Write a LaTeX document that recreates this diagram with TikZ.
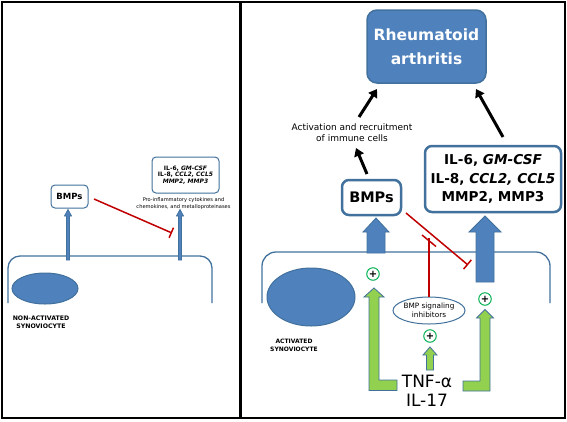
\documentclass[tikz,border=0pt]{standalone}
\usepackage{fontspec}
\setmainfont{DejaVu Sans}
\usetikzlibrary{arrows.meta,shapes.geometric}
\definecolor{bbord}{HTML}{41719C}
\definecolor{bfill}{HTML}{4F81BD}
\definecolor{rline}{HTML}{C00000}
\definecolor{gcirc}{HTML}{00B050}
\definecolor{gfill}{HTML}{92D050}
\begin{document}
\begin{tikzpicture}[x=1pt,y=-1pt,
  smallbox/.style={draw=bbord, fill=white, rounded corners=4pt, line width=1pt, inner sep=0pt, align=center},
  bigbox/.style={draw=bbord, fill=white, rounded corners=7pt, line width=2.5pt, inner sep=0pt, align=center},
  rabox/.style={draw=bbord, fill=bfill, rounded corners=10pt, line width=1.5pt, inner sep=0pt, align=center, text=white},
  membrane/.style={draw=bbord, line width=1.3pt, rounded corners=12pt},
  nucleus/.style={draw=bbord, fill=bfill, line width=1pt},
  barr/.style={fill=bfill, draw=bbord, line width=0.8pt},
  garr/.style={fill=gfill, draw=bbord, line width=0.8pt},
  inhib/.style={draw=rline, line width=1.5pt, -{Bar[width=11pt,line width=1.5pt]}},
  blk/.style={draw=black, line width=3pt, -{Triangle[length=8pt,width=10pt]}},
  plus/.style={circle, draw=gcirc, fill=white, line width=1pt, minimum size=12.5pt, inner sep=0pt, font=\bfseries\fontsize{10}{10}\selectfont},
  lbl/.style={align=center, inner sep=0pt}
]
\useasboundingbox (0,0) rectangle (567,421);
% frames
\draw[line width=2pt] (2,2) rectangle (565,418);
\draw[line width=3pt] (240,2) -- (240,418);

% ---------------- left panel ----------------
\draw[membrane] (8,303) -- (8,256) -- (212,256) -- (212,303);
\draw[nucleus] (45,288.5) ellipse [x radius=33, y radius=15.5];
\node[lbl, font=\bfseries\fontsize{6.2}{8.5}\selectfont] (nact) at (41,322) {NON-ACTIVATED\\SYNOVIOCYTE};
\node[smallbox, minimum width=37pt, minimum height=23pt, font=\bfseries\fontsize{8.5}{10}\selectfont] (bmpL) at (69.5,196.5) {BMPs};
\node[smallbox, minimum width=67pt, minimum height=36pt, font=\bfseries\fontsize{6}{6.7}\selectfont] (ilL) at (185.5,175) {IL-6, \textit{GM-CSF}\\IL-8, \textit{CCL2, CCL5}\\\textit{MMP2, MMP3}};
\node[lbl, font=\fontsize{5.1}{6.7}\selectfont] (capL) at (183.5,203.3) {Pro-inflammatory cytokines and\\chemokines, and metalloproteinases};
\draw[barr] (66.5,260) -- (66.5,216) -- (64.5,216) -- (68,209.5) -- (71.5,216) -- (69.5,216) -- (69.5,260) -- cycle;
\draw[barr] (178.5,260) -- (178.5,216) -- (176.5,216) -- (180,209.5) -- (183.5,216) -- (181.5,216) -- (181.5,260) -- cycle;
\coordinate (rl1) at (94,199);
\coordinate (rl2) at (172,233);
\draw[inhib] (rl1) -- (rl2);

% ---------------- right panel ----------------
\draw[membrane, rounded corners=14pt] (262,303) -- (262,252) -- (550,252) -- (550,303);
\draw[nucleus] (311,297) ellipse [x radius=44, y radius=29];
\node[lbl, font=\bfseries\fontsize{6}{7.8}\selectfont] (act2) at (294,345.5) {ACTIVATED\\SYNOVIOCYTE};

\node[rabox, minimum width=119pt, minimum height=73pt, font=\bfseries\fontsize{15.5}{24}\selectfont] (ra) at (426.5,46.5) {Rheumatoid\\arthritis};
\node[lbl, font=\fontsize{9}{11.5}\selectfont] (act) at (352,132.5) {Activation and recruitment\\of immune cells};
\node[bigbox, minimum width=59pt, minimum height=35pt, font=\bfseries\fontsize{14.5}{18}\selectfont] (bmpR) at (371.5,197.5) {BMPs};
\node[bigbox, minimum width=136pt, minimum height=66pt, font=\bfseries\fontsize{13.6}{18.5}\selectfont] (ilR) at (493,179) {IL-6, \textit{GM-CSF}\\IL-8, \textit{CCL2, CCL5}\\MMP2, MMP3};

\coordinate (k1a) at (367,174);
\coordinate (k1b) at (356,148);
\coordinate (k2a) at (359,117);
\coordinate (k2b) at (377,89);
\coordinate (k3a) at (503,137);
\coordinate (k3b) at (476,89);
\draw[blk] (k1a) -- (k1b);
\draw[blk] (k2a) -- (k2b);
\draw[blk] (k3a) -- (k3b);

% blue block arrows
\draw[barr] (367,253) -- (367,232) -- (363,232) -- (376,218) -- (389,232) -- (385,232) -- (385,253) -- cycle;
\draw[barr] (476,282) -- (476,232) -- (469,232) -- (485,216) -- (501,232) -- (494,232) -- (494,282) -- cycle;

% red inhibitions
\coordinate (r1) at (406,213);
\coordinate (r2) at (468,265);
\draw[inhib, -{Bar[width=12pt,line width=1.5pt]}] (r1) -- (r2);
\node[ellipse, draw=bbord, fill=white, line width=1pt, minimum width=69pt, minimum height=27pt, inner sep=0pt, align=center, font=\fontsize{7.3}{9}\selectfont] (inh) at (429,310.5) {BMP signaling\\inhibitors};
\coordinate (ib) at (429,238);
\draw[rline, line width=1.3pt] (inh.north) -- (ib);
\draw[rline, line width=1.5pt] (422,235) -- (436,246.5);

% green arrows
\draw[garr] (397,380) -- (379,380) -- (379,297) -- (384,297) -- (374,288) -- (364,297) -- (369,297) -- (369,390.5) -- (397,390.5) -- cycle;
\draw[garr] (463,381) -- (480,381) -- (480,318) -- (476.5,318) -- (485,309.5) -- (493.5,318) -- (490,318) -- (490,391) -- (463,391) -- cycle;
\draw[garr] (426.5,370) -- (426.5,355) -- (423,355) -- (430,347) -- (437,355) -- (433.5,355) -- (433.5,370) -- cycle;

\node[plus] (p1) at (373,274) {+};
\node[plus] (p2) at (485,299) {+};
\node[plus] (p3) at (430,336) {+};

\node[lbl, font=\fontsize{17}{18.5}\selectfont] (tnf) at (427,391) {TNF-α\\IL-17};
\end{tikzpicture}
\end{document}
